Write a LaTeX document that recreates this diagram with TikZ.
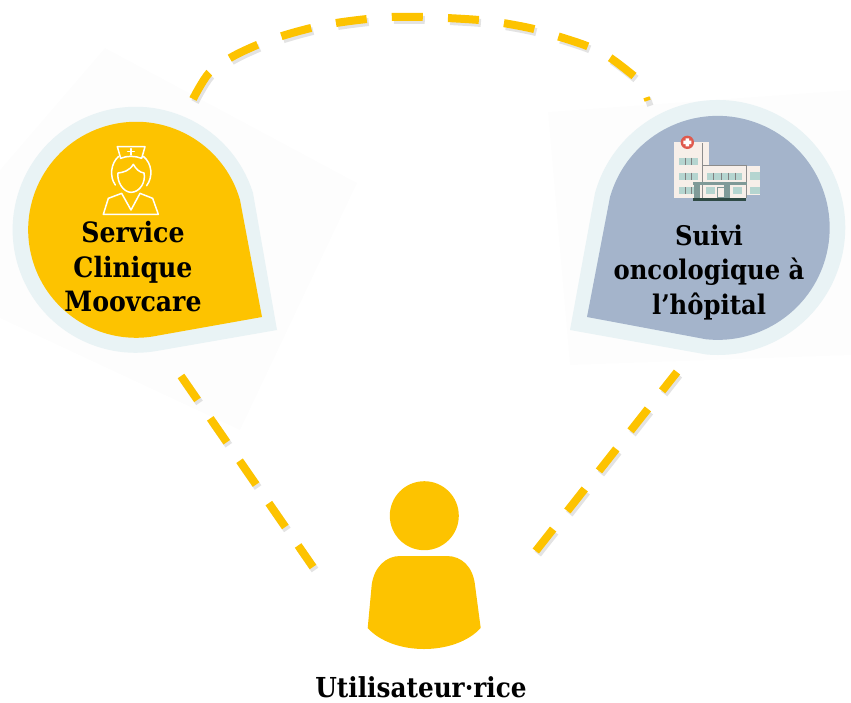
\documentclass[tikz,border=0pt]{standalone}
\usepackage{fontspec}
\setmainfont{DejaVu Serif Condensed}
\usepackage{tikz}
\definecolor{moovyellow}{HTML}{FDC300}
\definecolor{halo}{HTML}{E9F3F5}
\definecolor{slateblue}{HTML}{A4B4CB}
\definecolor{ghost}{HTML}{FDFDFD}
\definecolor{wall}{HTML}{F7EFE9}
\definecolor{pane}{HTML}{B5D5D0}
\definecolor{pillar}{HTML}{7F9A98}
\definecolor{plinth}{HTML}{2F4A45}
\definecolor{redcross}{HTML}{DF5A4E}
\tikzset{
    dashlink/.style n args={3}{moovyellow, line width=8pt, dash pattern=on #1 off #2, dash phase=#3,
        preaction={draw=black!55, line width=8pt, opacity=0.2, dash pattern=on #1 off #2, dash phase=#3,
            transform canvas={shift={(2pt,-3pt)}}}},
    label/.style={font=\bfseries\fontsize{28}{34.5}\selectfont, align=center, text=black, inner sep=0pt},
    nurseline/.style={draw=white, line width=1.5pt, line join=round, line cap=round},
    wing/.style={fill=wall},
    glass/.style={fill=pane}
}
\begin{document}
\begin{tikzpicture}[x=1pt,y=-1pt]
    \useasboundingbox (0,0) rectangle (851,702);
    % faint image backgrounds
    \fill[ghost] (0,170) -- (105,48) -- (357,183) -- (240,430) -- (0,318) -- cycle;
    \fill[ghost] (548,112) -- (851,90) -- (851,355) -- (570,365) -- cycle;

    % service drop
    \fill[halo] (277,330) -- (253,193) arc[start angle=-17.4, end angle=-280.4, radius=123] -- cycle;
    \fill[moovyellow] (262,317) -- (240,200) arc[start angle=-16, end angle=-282, radius=108] -- cycle;
    % nurse icon
    \begin{scope}[shift={(90,135)},scale=1/3]
        \draw[nurseline] (82,35) -- (165,35) -- (155,70) .. controls (135,62) and (110,62) .. (92,70) -- cycle;
        \draw[nurseline] (123,41) -- (123,60) (113,50) -- (133,50);
        \draw[nurseline] (86,64) .. controls (62,85) and (58,125) .. (76,150);
        \draw[nurseline] (160,64) .. controls (186,85) and (190,125) .. (170,152);
        \draw[nurseline] (130,88) .. controls (118,108) and (100,112) .. (84,114) .. controls (80,140) and (100,172) .. (123,172) .. controls (150,172) and (168,140) .. (162,114) .. controls (148,112) and (138,102) .. (130,88);
        \draw[nurseline] (40,238) -- (205,238) -- (188,190) -- (150,175) -- (123,225) -- (95,175) -- (55,190) -- cycle;
    \end{scope}
    \node[label] (service) at (133,267) {Service\\Clinique\\Moovcare};

    % hospital drop
    \fill[halo] (570,330) -- (595,193) arc[start angle=195.7, end angle=455, radius=127.5] -- cycle;
    \fill[slateblue] (587,317) -- (610,197) arc[start angle=196, end angle=456, radius=112] -- cycle;
    % hospital icon
    \begin{scope}[shift={(665,125)},scale=1/3]
        \fill[wing] (27,52) rectangle (132,220);
        \fill[wing] (112,122) rectangle (245,220);
        \fill[wing] (245,122) rectangle (285,210);
        \draw[black!45,line width=0.4pt] (112,55) -- (112,220) (112,122) -- (245,122) (245,122) -- (245,220);
        \foreach \y in {98,143,187} {
            \fill[glass] (42,\y) rectangle (100,\y+21);
            \draw[black!50,line width=0.4pt] (60,\y) -- (60,\y+21) (80,\y) -- (80,\y+21);
        }
        \fill[glass] (125,143) rectangle (232,165);
        \foreach \x in {145,168,190,212} {
            \draw[black!50,line width=0.4pt] (\x,143) -- (\x,165);
        }
        \fill[glass] (255,140) rectangle (285,165);
        \fill[glass] (255,185) rectangle (285,207);
        \fill[glass] (122,185) rectangle (150,207);
        \fill[glass] (205,185) rectangle (232,207);
        \fill[pillar] (85,172) rectangle (245,180);
        \fill[pillar] (88,180) rectangle (105,220);
        \fill[pillar] (178,180) rectangle (195,220);
        \draw[pillar,fill=wall,line width=0.6pt] (158,187) rectangle (178,218);
        \fill[plinth] (85,220) rectangle (243,228);
        \fill[redcross] (67,52) circle[radius=20];
        \fill[white] (62,40) rectangle (72,64) (55,47) rectangle (79,57);
    \end{scope}
    \node[label, font=\bfseries\fontsize{27}{34.5}\selectfont] (suivi) at (709,272.5) {Suivi\\oncologique à\\l’hôpital};

    % user
    \fill[moovyellow] (424.3,515.7) circle[radius=34.5];
    \fill[moovyellow] (367.7,628) -- (371.7,585) .. controls (374,567) and (386,556) .. (400,556) -- (446.7,556) .. controls (462,556) and (473,567) .. (475,585) -- (480.7,628) .. controls (455,656) and (393,656) .. (367.7,628) -- cycle;
    \node[label, font=\bfseries\fontsize{27.5}{30}\selectfont, anchor=base] (user) at (421,697) {Utilisateur·rice};

    % connector ends
    \coordinate (arcA) at (193,99);
    \coordinate (arcB) at (634,76);
    \coordinate (arcC) at (644,100);
    \coordinate (arcD) at (650,98);
    \coordinate (leftA) at (181,376);
    \coordinate (leftB) at (313,567);
    \coordinate (rightA) at (677,372);
    \coordinate (rightB) at (535,552);

    \draw[dashlink={31pt}{25.2pt}{0pt}] plot[smooth, tension=0.6] coordinates {(arcA) (209,73) (230,58) (257,45) (282,36) (311,28) (336,23) (367,19) (391,17) (423,17) (447,18) (479,20) (503,23) (534,29) (557,36) (587,46) (609,57) (arcB)};
    \draw[dashlink={8pt}{1pt}{0pt}, line width=3.5pt] (arcC) -- (arcD);
    \draw[dashlink={29pt}{22.5pt}{0pt}] (leftA) -- (leftB);
    \draw[dashlink={28pt}{23pt}{4pt}] (rightA) -- (rightB);
\end{tikzpicture}
\end{document}
